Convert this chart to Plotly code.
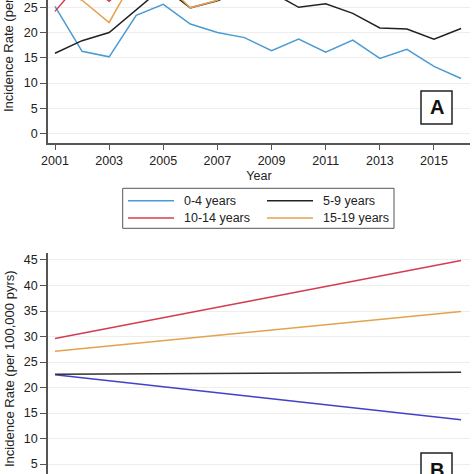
import plotly.graph_objects as go

W = H = 474

# ---------------- data ----------------
years = list(range(2001, 2017))
age_groups = ["0-4 years", "5-9 years", "10-14 years", "15-19 years"]

rate_0_4 = [25.2, 16.3, 15.2, 23.4, 25.6, 21.7, 20.0, 19.0, 16.4, 18.7, 16.1, 18.5, 14.9, 16.7, 13.3, 10.9]
rate_5_9 = [15.9, 18.4, 20.0, 24.6, 29.0, 24.9, 26.3, 28.5, 28.0, 25.0, 25.7, 23.8, 20.9, 20.7, 18.7, 20.8]
rate_10_14 = [24.2, 30.5, 26.2, 31.0, 34.0, 33.0, 35.0, 38.0, 37.0, 40.0, 39.0, 42.0, 41.0, 44.0, 43.0, 47.0]
rate_15_19 = [28.5, 26.4, 22.0, 31.5, 30.0, 24.9, 26.4, 31.0, 30.0, 33.0, 32.0, 34.0, 33.0, 35.0, 34.0, 36.0]

trend_years = [2001, 2016]
trend_0_4 = [22.5, 13.7]
trend_5_9 = [22.6, 23.0]
trend_10_14 = [29.6, 44.9]
trend_15_19 = [27.1, 34.9]

colors_a = ["#4a9bd3", "#222222", "#d43c52", "#e4a24e"]
colors_b = ["#4242c6", "#333333", "#d43c52", "#e4a24e"]

# ---------------- helpers (pixel -> paper) ----------------
def px(x):
    return x / W

def py(y):
    return 1 - y / H

FONT = "Liberation Sans, Arial, sans-serif"
TXT = "#222222"
FS = 12.5

fig = go.Figure()

series_a = [rate_0_4, rate_5_9, rate_10_14, rate_15_19]
for name, vals, col in zip(age_groups, series_a, colors_a):
    fig.add_trace(go.Scatter(x=years, y=vals, mode="lines", name=name,
                             line=dict(color=col, width=1.5),
                             xaxis="x", yaxis="y", showlegend=False))

series_b = [trend_0_4, trend_5_9, trend_10_14, trend_15_19]
for name, vals, col in zip(age_groups, series_b, colors_b):
    fig.add_trace(go.Scatter(x=trend_years, y=vals, mode="lines", name=name,
                             line=dict(color=col, width=1.5),
                             xaxis="x2", yaxis="y2", showlegend=False))

xr = [2001 - 7 / 27.07, 2001 + (470 - 55) / 27.07]

axis_common = dict(showgrid=True, gridcolor="#eeeeee", gridwidth=1,
                   zeroline=False, showline=True, linecolor="#555555",
                   linewidth=1.5, ticks="outside", ticklen=6, tickwidth=1,
                   tickcolor="#555555", automargin=False,
                   tickfont=dict(family=FONT, size=FS, color=TXT))

fig.update_layout(
    template="none",
    width=W, height=H, autosize=False,
    margin=dict(l=0, r=0, t=0, b=0, pad=0),
    paper_bgcolor="white", plot_bgcolor="white",
    showlegend=False,
    xaxis=dict(domain=[px(48), px(470)], range=xr, anchor="y",
               tickmode="array", tickvals=list(range(2001, 2016, 2)),
               title=dict(text="Year", font=dict(family=FONT, size=FS, color=TXT), standoff=4),
               **{**axis_common, "showgrid": False}),
    yaxis=dict(domain=[py(142.7), 1], range=[-1.8, 26.45], anchor="x",
               tickmode="array", tickvals=[0, 5, 10, 15, 20, 25],
               **axis_common),
    xaxis2=dict(domain=[px(48), px(470)], range=xr, anchor="y2",
                showgrid=False, showline=False, showticklabels=False,
                ticks="", zeroline=False, automargin=False),
    yaxis2=dict(domain=[0, py(252.7)], range=[3.04, 46.43], anchor="x2",
                tickmode="array", tickvals=[5, 10, 15, 20, 25, 30, 35, 40, 45],
                **axis_common),
)

shapes = []
annotations = []

# y-axis titles
ytitle = "Incidence Rate (per 100,000 pyrs)"
for ycen in (14, 369):
    annotations.append(dict(text=ytitle, x=px(9), y=py(ycen), xref="paper", yref="paper",
                            xanchor="center", yanchor="middle", textangle=-90,
                            showarrow=False, font=dict(family=FONT, size=13, color=TXT)))

# panel labels
for label, (y0, y1) in (("A", (91, 124)), ("B", (453, 486))):
    shapes.append(dict(type="rect", xref="paper", yref="paper",
                       x0=px(421), x1=px(452), y0=py(y1), y1=py(y0),
                       line=dict(color="#222222", width=1.5), fillcolor="white"))
    annotations.append(dict(text="<b>%s</b>" % label, x=px(436.5), y=py((y0 + y1) / 2),
                            xref="paper", yref="paper", xanchor="center", yanchor="middle",
                            showarrow=False, font=dict(family=FONT, size=20, color="#111111")))

# legend (manual, two columns)
shapes.append(dict(type="rect", xref="paper", yref="paper",
                   x0=px(122.7), x1=px(394), y0=py(228.3), y1=py(188.3),
                   line=dict(color="#555555", width=1), fillcolor="white"))
positions = [(128, 200.7), (267, 200.7), (128, 218), (267, 218)]
for name, col, (lx, ly) in zip(age_groups, colors_a, positions):
    shapes.append(dict(type="line", xref="paper", yref="paper",
                       x0=px(lx), x1=px(lx + 46), y0=py(ly), y1=py(ly),
                       line=dict(color=col, width=1.5)))
    annotations.append(dict(text=name, x=px(lx + 54), y=py(ly), xref="paper", yref="paper",
                            xanchor="left", yanchor="middle", showarrow=False,
                            font=dict(family=FONT, size=FS, color=TXT)))

fig.update_layout(shapes=shapes, annotations=annotations)

fig.write_html("out.html",
               config={"displayModeBar": False},
               post_script="document.body.style.margin='0';document.body.style.padding='0';")
